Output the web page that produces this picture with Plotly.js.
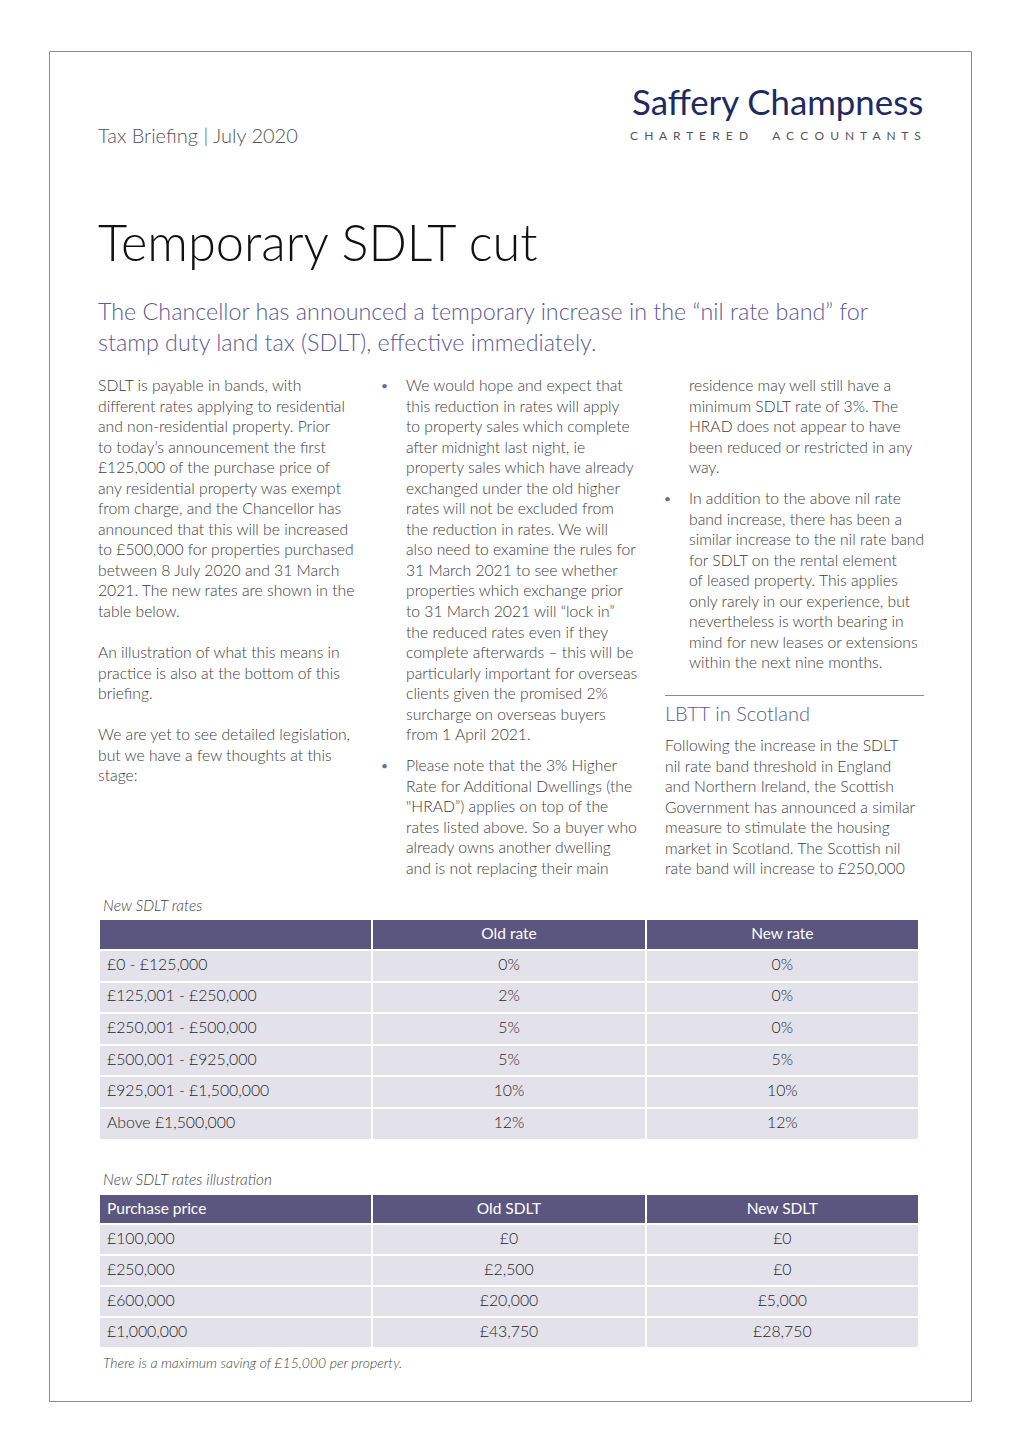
<!DOCTYPE html>
<html>
<head>
<meta charset="utf-8">
<script src="https://cdn.plot.ly/plotly-3.0.1.min.js"></script>
<style>html,body{margin:0;padding:0;background:#fff;}</style>
</head>
<body>
<div id="chart" style="width:1020px;height:1442px;"></div>
<script>
// ---- Table data ----
const rateHeader = ["", "Old rate", "New rate"];
const rateBands = ["£0 - £125,000", "£125,001 - £250,000", "£250,001 - £500,000", "£500,001 - £925,000", "£925,001 - £1,500,000", "Above £1,500,000"];
const oldRates = ["0%", "2%", "5%", "5%", "10%", "12%"];
const newRates = ["0%", "0%", "0%", "5%", "10%", "12%"];

const illusHeader = ["Purchase price", "Old SDLT", "New SDLT"];
const prices = ["£100,000", "£250,000", "£600,000", "£1,000,000"];
const oldSDLT = ["£0", "£2,500", "£20,000", "£43,750"];
const newSDLT = ["£0", "£0", "£5,000", "£28,750"];

// ---- Text content ----
const col1Lines = [
  "SDLT is payable in bands, with",
  "different rates applying to residential",
  "and non-residential property. Prior",
  "to today’s announcement the first",
  "£125,000 of the purchase price of",
  "any residential property was exempt",
  "from charge, and the Chancellor has",
  "announced that this will be increased",
  "to £500,000 for properties purchased",
  "between 8 July 2020 and 31 March",
  "2021. The new rates are shown in the",
  "table below.",
  "",
  "An illustration of what this means in",
  "practice is also at the bottom of this",
  "briefing.",
  "",
  "We are yet to see detailed legislation,",
  "but we have a few thoughts at this",
  "stage:"
];
const col2Bullet1 = [
  "We would hope and expect that",
  "this reduction in rates will apply",
  "to property sales which complete",
  "after midnight last night, ie",
  "property sales which have already",
  "exchanged under the old higher",
  "rates will not be excluded from",
  "the reduction in rates. We will",
  "also need to examine the rules for",
  "31 March 2021 to see whether",
  "properties which exchange prior",
  "to 31 March 2021 will “lock in”",
  "the reduced rates even if they",
  "complete afterwards – this will be",
  "particularly important for overseas",
  "clients given the promised 2%",
  "surcharge on overseas buyers",
  "from 1 April 2021."
];
const col2Bullet2 = [
  "Please note that the 3% Higher",
  "Rate for Additional Dwellings (the",
  "\"HRAD”) applies on top of the",
  "rates listed above. So a buyer who",
  "already owns another dwelling",
  "and is not replacing their main"
];
const col3Cont = [
  "residence may well still have a",
  "minimum SDLT rate of 3%. The",
  "HRAD does not appear to have",
  "been reduced or restricted in any",
  "way."
];
const col3Bullet = [
  "In addition to the above nil rate",
  "band increase, there has been a",
  "similar increase to the nil rate band",
  "for SDLT on the rental element",
  "of leased property. This applies",
  "only rarely in our experience, but",
  "nevertheless is worth bearing in",
  "mind for new leases or extensions",
  "within the next nine months."
];
const col3Scot = [
  "Following the increase in the SDLT",
  "nil rate band threshold in England",
  "and Northern Ireland, the Scottish",
  "Government has announced a similar",
  "measure to stimulate the housing",
  "market in Scotland. The Scottish nil",
  "rate band will increase to £250,000"
];

// ---- helpers ----
const W = 1020, H = 1442;
const X = p => p / W;
const Y = p => 1 - p / H;
const FONT = "Lato, 'Open Sans', sans-serif";
const bodyColor = "#3c3c3c";
const purple = "#5b5680";
const lineStep = 20.55;
const bodyTop = 385;
const bodySize = 15.7;

const annotations = [];
function txt(text, x, y, opts) {
  opts = opts || {};
  const anchor = opts.xanchor || "left";
  annotations.push({
    text: text, xref: "paper", yref: "paper",
    x: X(anchor === "left" ? x - 2 : x + 1), y: Y(y),
    xanchor: anchor, yanchor: "middle", showarrow: false, align: "left",
    font: Object.assign({family: FONT, size: bodySize, color: bodyColor, weight: 300}, opts.font || {})
  });
}
function block(lines, x, startIdx) {
  lines.forEach((l, i) => { if (l) txt(l, x, bodyTop + (startIdx + i) * lineStep); });
}
function bullet(x, idx) {
  txt("•", x, bodyTop + idx * lineStep, {font: {color: "#6b6a9c", size: 12, weight: 400}});
}

// header
txt("Tax Briefing | July 2020", 98, 135, {font: {size: 20, color: "#555"}});
txt("Saffery Champness", 924, 102, {xanchor: "right", font: {size: 34.8, color: "#1c2b61", weight: 400}});
const spaced = s => s.split("").join("\u00A0\u00A0");
txt(spaced("CHARTERED") + "\u00A0".repeat(8) + spaced("ACCOUNTANTS"), 922, 136, {xanchor: "right", font: {size: 12, color: "#555", weight: 400}});

// title & subtitle
txt("Temporary SDLT cut", 98, 241, {font: {size: 50.5, color: "#111"}});
txt("The Chancellor has announced a temporary increase in the “nil rate band” for", 98, 311, {font: {size: 23.3, color: "#5e5a92"}});
txt("stamp duty land tax (SDLT), effective immediately.", 98, 342, {font: {size: 23.3, color: "#5e5a92"}});

// columns
block(col1Lines, 98, 0);
bullet(381, 0);
block(col2Bullet1, 406, 0);
bullet(381, 18.5);
block(col2Bullet2, 406, 18.5);
block(col3Cont, 689, 0);
bullet(664, 5.5);
block(col3Bullet, 689, 5.5);
txt("LBTT in Scotland", 665, 713, {font: {size: 20, color: "#5e5a8c"}});
col3Scot.forEach((l, i) => txt(l, 665, 745 + i * lineStep));

// table captions
txt("New SDLT rates", 103, 905, {font: {size: 15.5, color: "#444", style: "italic"}});
txt("New SDLT rates illustration", 103, 1179, {font: {size: 15.5, color: "#444", style: "italic"}});
txt("There is a maximum saving of £15,000 per property.", 103, 1362, {font: {size: 14, color: "#444", style: "italic"}});

const shapes = [
  {type: "rect", xref: "paper", yref: "paper", x0: X(49.5), x1: X(971.5), y0: Y(51.5), y1: Y(1401.5),
   line: {color: "#8a8aa6", width: 1}},
  {type: "line", xref: "paper", yref: "paper", x0: X(665), x1: X(924), y0: Y(695.5), y1: Y(695.5),
   line: {color: "#8a8a8a", width: 1}}
];

const cellFill = "#e3e1ea";
function tableTrace(header, cols, top, bottom, hh, ch) {
  return {
    type: "table",
    domain: {x: [X(99), X(919)], y: [Y(bottom), Y(top)]},
    columnwidth: [1, 1, 1],
    header: {
      values: header,
      align: ["left", "center", "center"],
      fill: {color: purple},
      line: {color: "#ffffff", width: 2},
      font: {family: FONT, size: 15.5, color: "#ffffff", weight: 400},
      height: hh
    },
    cells: {
      values: cols,
      align: ["left", "center", "center"],
      fill: {color: cellFill},
      line: {color: "#ffffff", width: 2},
      font: {family: FONT, size: 15.8, color: "#262626", weight: 300},
      height: ch
    }
  };
}

const data = [
  tableTrace(rateHeader, [rateBands, oldRates, newRates], 919, 1142, 31, 31.6),
  tableTrace(illusHeader, [prices, oldSDLT, newSDLT], 1194, 1352, 30, 31)
];

const layout = {
  width: W, height: H,
  margin: {l: 0, r: 0, t: 0, b: 0},
  paper_bgcolor: "#ffffff",
  plot_bgcolor: "#ffffff",
  showlegend: false,
  annotations: annotations,
  shapes: shapes,
  font: {family: FONT}
};

Plotly.newPlot("chart", data, layout, {displayModeBar: false, staticPlot: true});
</script>
</body>
</html>
